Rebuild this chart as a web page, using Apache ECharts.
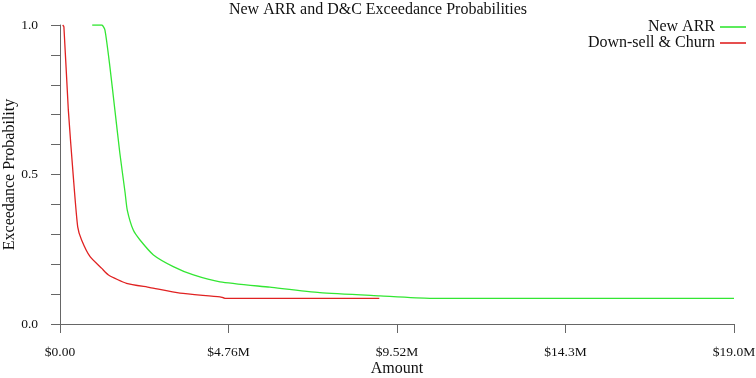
<!DOCTYPE html>
<html><head><meta charset="utf-8">
<script src="https://cdn.jsdelivr.net/npm/echarts@6/dist/echarts.min.js"></script>
<style>html,body{margin:0;padding:0;background:#fff}#c{width:756px;height:378px}</style>
</head><body><div id="c"></div>
<script>
var title = 'New ARR and D&C Exceedance Probabilities';
var seriesNames = ['New ARR', 'Down-sell & Churn'];
var xTicks = [0, 4.76e6, 9.52e6, 14.28e6, 19.04e6];
var yTicks = [0, 0.5, 1.0];
// New ARR curve (amount, exceedance probability)
var newArrX = [0.91e6, 1.18e6, 1.27e6, 1.41e6, 1.55e6, 1.69e6, 1.84e6, 1.90e6, 2.07e6, 2.26e6, 2.64e6, 3.2e6, 3.77e6, 4.52e6, 5.93e6, 7.34e6, 9.04e6, 10.45e6, 11.86e6, 19.04e6];
var newArrY = [1.0, 1.0, 0.983, 0.86, 0.716, 0.572, 0.438, 0.381, 0.314, 0.281, 0.231, 0.192, 0.164, 0.141, 0.123, 0.105, 0.094, 0.086, 0.086, 0.086];
// Down-sell & Churn curve
var dcX = [0.076e6, 0.11e6, 0.235e6, 0.376e6, 0.5e6, 0.61e6, 0.85e6, 1.18e6, 1.37e6, 1.88e6, 2.54e6, 3.39e6, 4.52e6, 4.66e6, 9.02e6];
var dcY = [1.0, 0.994, 0.716, 0.493, 0.325, 0.281, 0.225, 0.186, 0.164, 0.136, 0.122, 0.103, 0.091, 0.086, 0.086];

function pairs(xs, ys) { return xs.map(function (x, i) { return [x, ys[i]]; }); }
var FONT = 'Liberation Serif';
var chart = echarts.init(document.getElementById('c'));
chart.setOption({
  animation: false,
  textStyle: { fontFamily: FONT },
  title: { text: title, left: 'center', top: 2, padding: 0,
    textStyle: { fontFamily: FONT, fontWeight: 'normal', fontSize: 16, color: '#111' } },
  legend: { right: 5, top: 14, orient: 'vertical', align: 'right', itemGap: 0,
    itemWidth: 26, itemHeight: 15, icon: 'path://M0,7 L26,7 L26,8.6 L0,8.6 Z',
    textStyle: { fontFamily: FONT, fontSize: 16, color: '#111', padding: [0, 0, 0, 0] },
    data: seriesNames },
  grid: { left: 60, right: 22, top: 25, bottom: 54, outerBoundsMode: 'none', containLabel: false },
  xAxis: { type: 'value', min: xTicks[0], max: xTicks[xTicks.length - 1], interval: xTicks[1] - xTicks[0],
    offset: 11, name: 'Amount', nameLocation: 'middle', nameGap: 26, nameMoveOverlap: false,
    nameTextStyle: { fontFamily: FONT, fontSize: 16, color: '#111' },
    axisLine: { lineStyle: { color: '#666', width: 1 } },
    axisTick: { length: 9, lineStyle: { color: '#666' } },
    splitLine: { show: false },
    axisLabel: { fontFamily: FONT, fontSize: 13.5, color: '#111', margin: 10,
      formatter: function (v) { return '$' + (v === 0 ? '0.00' : (v / 1e6).toPrecision(3) + 'M'); } } },
  yAxis: { type: 'value', min: 0, max: 1, interval: 0.1, offset: 8,
    name: 'Exceedance Probability', nameLocation: 'middle', nameGap: 34, nameMoveOverlap: false,
    nameTextStyle: { fontFamily: FONT, fontSize: 16, color: '#111' },
    axisLine: { show: true, lineStyle: { color: '#666', width: 1 } },
    axisTick: { show: true, length: 9, lineStyle: { color: '#666' } },
    splitLine: { show: false },
    axisLabel: { fontFamily: FONT, fontSize: 13.5, color: '#111', margin: 14,
      formatter: function (v) {
        for (var i = 0; i < yTicks.length; i++) if (Math.abs(v - yTicks[i]) < 1e-6) return yTicks[i].toFixed(1);
        return '';
      } } },
  series: [
    { name: seriesNames[0], type: 'line', showSymbol: false, smooth: 0.2, data: pairs(newArrX, newArrY),
      lineStyle: { color: '#33e633', width: 1.3 }, itemStyle: { color: '#33e633' } },
    { name: seriesNames[1], type: 'line', showSymbol: false, smooth: 0.2, data: pairs(dcX, dcY),
      lineStyle: { color: '#e02222', width: 1.3 }, itemStyle: { color: '#e02222' } }
  ]
});
</script></body></html>
